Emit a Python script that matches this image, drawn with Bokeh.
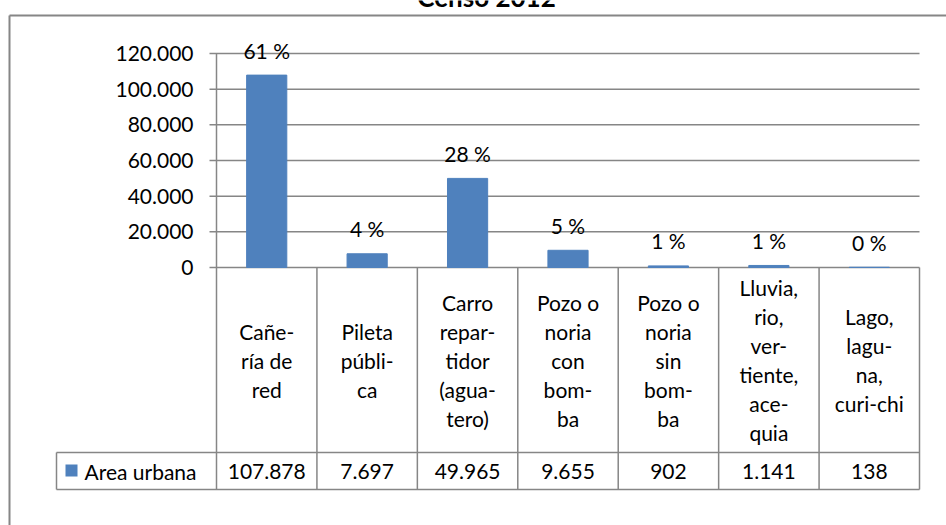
import numpy as np
from bokeh.plotting import figure
from bokeh.models import Range1d
from bokeh.core.properties import value
from bokeh.embed import file_html
from bokeh.resources import INLINE

# ---------------- data ----------------
title_text = "Censo 2012"
series_name = "Area urbana"
categories = [
    "Cañe-\nría de\nred",
    "Pileta\npúbli-\nca",
    "Carro\nrepar-\ntidor\n(agua-\ntero)",
    "Pozo o\nnoria\ncon\nbom-\nba",
    "Pozo o\nnoria\nsin\nbom-\nba",
    "Lluvia,\nrio,\nver-\ntiente,\nace-\nquia",
    "Lago,\nlagu-\nna,\ncuri-chi",
]
values = [107878, 7697, 49965, 9655, 902, 1141, 138]
pct_labels = ["61 %", "4 %", "28 %", "5 %", "1 %", "1 %", "0 %"]
y_ticks = [0, 20000, 40000, 60000, 80000, 100000, 120000]

# ---------------- layout (pixel geometry of the chart) ----------------
W, H = 946, 525
PL, PR, PT, PB = 216, 919, 53, 267      # plot area: category 0..N, value 0..max
N = len(categories)
YMAX = y_ticks[-1]

def dx(px):
    return (px - PL) / (PR - PL) * N

def dy(py):
    return (PB - py) / (PB - PT) * YMAX

FONT = value("Lato")
FS = value("21px")
GRID = "#868686"
BAR = "#4F81BD"
LW = 1.5

def fmt(v):
    return f"{v:,}".replace(",", ".")

p = figure(width=W, height=H, output_backend="svg", toolbar_location=None,
           x_range=Range1d(dx(0), dx(W)), y_range=Range1d(dy(H), dy(0)),
           x_axis_location=None, y_axis_location=None, min_border=0)
p.outline_line_color = None
p.background_fill_color = "white"
p.border_fill_color = "white"
p.xgrid.visible = False
p.ygrid.visible = False

centers = list(np.arange(N) + 0.5)

# outer chart border (continues past the right and bottom edges)
p.segment(x0=[dx(9), dx(9)], y0=[dy(15), dy(15)], x1=[dx(W + 50), dx(9)],
          y1=[dy(15), dy(H + 50)], line_color=GRID, line_width=2)

# gridlines with tick marks
tick_left = dx(209)
p.segment(x0=[tick_left] * len(y_ticks), y0=y_ticks, x1=[N] * len(y_ticks),
          y1=y_ticks, line_color=GRID, line_width=LW)
# tick labels
p.text(x=[dx(193)] * len(y_ticks), y=y_ticks, text=[fmt(t) for t in y_ticks],
       text_align="right", text_baseline="middle", text_font=FONT,
       text_font_size=FS, text_color="black")

# data table geometry
row1_bottom = dy(452)
row2_bottom = dy(489)
legend_left = dx(56)
# vertical column lines (the first one is also the value axis)
p.segment(x0=list(range(N + 1)), y0=[0] * (N + 1), x1=list(range(N + 1)),
          y1=[row2_bottom] * (N + 1), line_color=GRID, line_width=LW)
p.segment(x0=[0], y0=[0], x1=[0], y1=[YMAX], line_color=GRID, line_width=LW)
p.segment(x0=[legend_left], y0=[row1_bottom], x1=[legend_left], y1=[row2_bottom],
          line_color=GRID, line_width=LW)
# horizontal table lines
p.segment(x0=[legend_left, legend_left], y0=[row1_bottom, row2_bottom],
          x1=[N, N], y1=[row1_bottom, row2_bottom], line_color=GRID, line_width=LW)

# bars
p.vbar(x=centers, top=values, width=0.4, fill_color=BAR, line_color=BAR)

# percentage labels above bars
p.text(x=centers, y=values, text=pct_labels, y_offset=-25,
       text_align="center", text_baseline="middle", text_font=FONT,
       text_font_size=FS, text_color="black")

# header texts
p.text(x=centers, y=[(0 + row1_bottom) / 2] * N, text=categories,
       text_align="center", text_baseline="middle", text_line_height=1.16,
       text_font=FONT, text_font_size=FS, text_color="black")
# value texts
p.text(x=centers, y=[(row1_bottom + row2_bottom) / 2] * N,
       text=[fmt(v) for v in values], text_align="center", text_baseline="middle",
       text_font=FONT, text_font_size=FS, text_color="black")

# legend key and name
p.quad(left=[dx(65)], right=[dx(77)], top=[dy(464)], bottom=[dy(476)],
       fill_color=BAR, line_color=None)
p.text(x=[dx(84)], y=[(row1_bottom + row2_bottom) / 2], text=[series_name],
       text_align="left", text_baseline="middle", text_font=FONT,
       text_font_size=FS, text_color="black")

# title (cut at the top edge as in the reference)
p.text(x=[dx(486)], y=[dy(-4)], text=[title_text], text_align="center",
       text_baseline="alphabetic", text_font=FONT, text_font_style="bold",
       text_font_size=value("26px"), text_color="black")

open("out.html", "w").write(file_html(p, INLINE))
